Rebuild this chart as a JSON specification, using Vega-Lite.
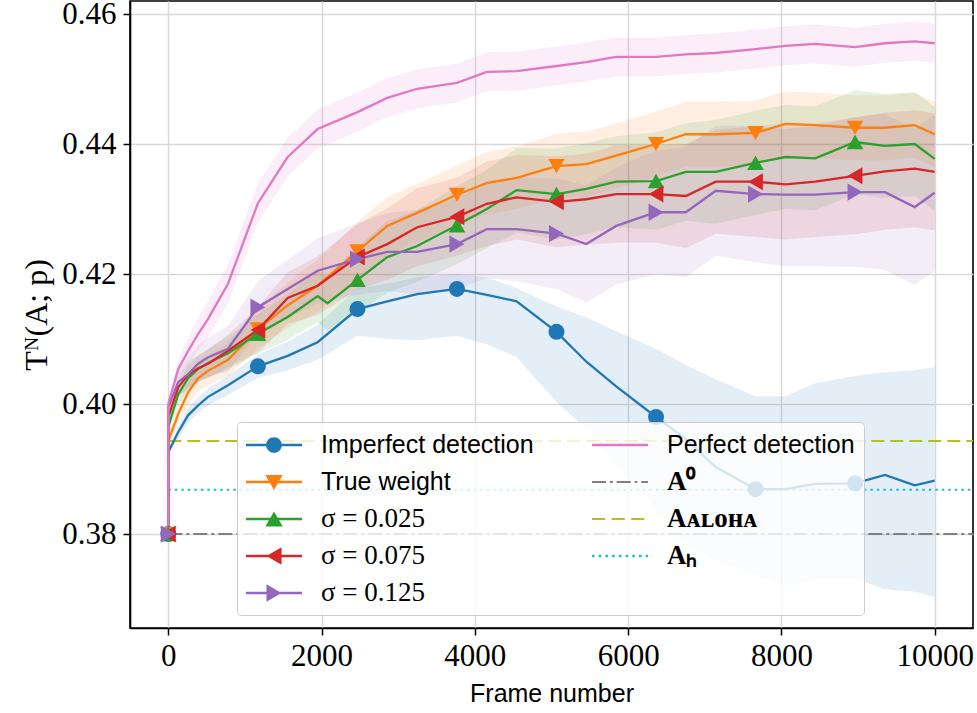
{
  "$schema": "https://vega.github.io/schema/vega-lite/v6.json",
  "width": 843,
  "height": 627,
  "autosize": {"type": "none"},
  "padding": {"left": 130, "top": 1, "right": 4, "bottom": 85},
  "background": "white",
  "config": {
    "view": {"stroke": "black", "strokeWidth": 1.6},
    "axis": {
      "grid": true, "gridColor": "#d9d9d9", "gridWidth": 1.5,
      "domainColor": "black", "domainWidth": 1.6,
      "tickColor": "black", "tickWidth": 1.5, "tickSize": 7,
      "labelFont": "Liberation Serif", "labelFontSize": 31, "labelColor": "black",
      "titleColor": "black", "titleFontWeight": "normal"
    },
    "axisX": {"labelPadding": 6, "titleFont": "Liberation Sans", "titleFontSize": 25, "titlePadding": 10, "labelFlush": false},
    "axisY": {"labelPadding": 7, "titleFont": "Liberation Serif", "titleFontSize": 32, "titlePadding": 8}
  },
  "datasets": {
    "curves": [
      {"s":"Imperfect detection","i":0,"f":0,"v":0.38},
      {"s":"Imperfect detection","i":1,"f":0,"v":0.3926,"lo":0.3921,"hi":0.3931},
      {"s":"Imperfect detection","i":2,"f":130,"v":0.3957,"lo":0.3947,"hi":0.3967},
      {"s":"Imperfect detection","i":3,"f":260,"v":0.3983,"lo":0.3971,"hi":0.3995},
      {"s":"Imperfect detection","i":4,"f":390,"v":0.3998,"lo":0.3986,"hi":0.4010},
      {"s":"Imperfect detection","i":5,"f":519,"v":0.4011,"lo":0.3998,"hi":0.4024},
      {"s":"Imperfect detection","i":7,"f":779,"v":0.4029,"lo":0.4014,"hi":0.4044},
      {"s":"Imperfect detection","i":10,"f":1169,"v":0.4058,"lo":0.4040,"hi":0.4076},
      {"s":"Imperfect detection","i":13,"f":1558,"v":0.4074,"lo":0.4052,"hi":0.4096},
      {"s":"Imperfect detection","i":16,"f":1948,"v":0.4095,"lo":0.4068,"hi":0.4122},
      {"s":"Imperfect detection","i":20,"f":2468,"v":0.4146,"lo":0.4105,"hi":0.4178},
      {"s":"Imperfect detection","i":23,"f":2857,"v":0.4158,"lo":0.4100,"hi":0.4185},
      {"s":"Imperfect detection","i":26,"f":3247,"v":0.4169,"lo":0.4098,"hi":0.4195},
      {"s":"Imperfect detection","i":30,"f":3766,"v":0.4177,"lo":0.4105,"hi":0.4200},
      {"s":"Imperfect detection","i":33,"f":4156,"v":0.4168,"lo":0.4092,"hi":0.4195},
      {"s":"Imperfect detection","i":36,"f":4545,"v":0.4158,"lo":0.4072,"hi":0.4178},
      {"s":"Imperfect detection","i":40,"f":5065,"v":0.4111,"lo":0.4003,"hi":0.4150},
      {"s":"Imperfect detection","i":43,"f":5455,"v":0.4065,"lo":0.3962,"hi":0.4133},
      {"s":"Imperfect detection","i":46,"f":5844,"v":0.4027,"lo":0.3906,"hi":0.4112},
      {"s":"Imperfect detection","i":50,"f":6364,"v":0.3980,"lo":0.3838,"hi":0.4085},
      {"s":"Imperfect detection","i":53,"f":6753,"v":0.3946,"lo":0.3785,"hi":0.4060},
      {"s":"Imperfect detection","i":56,"f":7143,"v":0.3903,"lo":0.3758,"hi":0.4038},
      {"s":"Imperfect detection","i":60,"f":7662,"v":0.3869,"lo":0.3738,"hi":0.4012},
      {"s":"Imperfect detection","i":63,"f":8052,"v":0.3869,"lo":0.3720,"hi":0.4012},
      {"s":"Imperfect detection","i":66,"f":8442,"v":0.3877,"lo":0.3731,"hi":0.4032},
      {"s":"Imperfect detection","i":70,"f":8961,"v":0.3878,"lo":0.3731,"hi":0.4043},
      {"s":"Imperfect detection","i":73,"f":9351,"v":0.3891,"lo":0.3715,"hi":0.4049},
      {"s":"Imperfect detection","i":76,"f":9740,"v":0.3875,"lo":0.3711,"hi":0.4052},
      {"s":"Imperfect detection","i":78,"f":10000,"v":0.3882,"lo":0.3703,"hi":0.4057},

      {"s":"True weight","i":0,"f":0,"v":0.38},
      {"s":"True weight","i":1,"f":0,"v":0.3943,"lo":0.3935,"hi":0.3951},
      {"s":"True weight","i":2,"f":130,"v":0.3985,"lo":0.3970,"hi":0.4000},
      {"s":"True weight","i":3,"f":260,"v":0.4018,"lo":0.3998,"hi":0.4038},
      {"s":"True weight","i":4,"f":390,"v":0.4040,"lo":0.4020,"hi":0.4060},
      {"s":"True weight","i":5,"f":519,"v":0.4051,"lo":0.4029,"hi":0.4073},
      {"s":"True weight","i":7,"f":779,"v":0.4068,"lo":0.4043,"hi":0.4093},
      {"s":"True weight","i":10,"f":1169,"v":0.4115,"lo":0.4085,"hi":0.4145},
      {"s":"True weight","i":13,"f":1558,"v":0.4152,"lo":0.4117,"hi":0.4187},
      {"s":"True weight","i":16,"f":1948,"v":0.4182,"lo":0.4142,"hi":0.4222},
      {"s":"True weight","i":20,"f":2468,"v":0.4235,"lo":0.4190,"hi":0.4280},
      {"s":"True weight","i":23,"f":2857,"v":0.4274,"lo":0.4229,"hi":0.4319},
      {"s":"True weight","i":26,"f":3247,"v":0.4294,"lo":0.4249,"hi":0.4339},
      {"s":"True weight","i":30,"f":3766,"v":0.4322,"lo":0.4277,"hi":0.4367},
      {"s":"True weight","i":33,"f":4156,"v":0.4340,"lo":0.4292,"hi":0.4388},
      {"s":"True weight","i":36,"f":4545,"v":0.4348,"lo":0.4300,"hi":0.4396},
      {"s":"True weight","i":40,"f":5065,"v":0.4366,"lo":0.4316,"hi":0.4416},
      {"s":"True weight","i":43,"f":5455,"v":0.4369,"lo":0.4319,"hi":0.4419},
      {"s":"True weight","i":46,"f":5844,"v":0.4382,"lo":0.4332,"hi":0.4432},
      {"s":"True weight","i":50,"f":6364,"v":0.4400,"lo":0.4350,"hi":0.4450},
      {"s":"True weight","i":53,"f":6753,"v":0.4415,"lo":0.4365,"hi":0.4465},
      {"s":"True weight","i":56,"f":7143,"v":0.4415,"lo":0.4365,"hi":0.4465},
      {"s":"True weight","i":60,"f":7662,"v":0.4417,"lo":0.4367,"hi":0.4467},
      {"s":"True weight","i":63,"f":8052,"v":0.4431,"lo":0.4381,"hi":0.4481},
      {"s":"True weight","i":66,"f":8442,"v":0.4429,"lo":0.4379,"hi":0.4479},
      {"s":"True weight","i":70,"f":8961,"v":0.4425,"lo":0.4375,"hi":0.4475},
      {"s":"True weight","i":73,"f":9351,"v":0.4425,"lo":0.4375,"hi":0.4475},
      {"s":"True weight","i":76,"f":9740,"v":0.4429,"lo":0.4379,"hi":0.4479},
      {"s":"True weight","i":78,"f":10000,"v":0.4415,"lo":0.4365,"hi":0.4465},

      {"s":"σ = 0.025","i":0,"f":0,"v":0.38},
      {"s":"σ = 0.025","i":1,"f":0,"v":0.3965,"lo":0.3955,"hi":0.3975},
      {"s":"σ = 0.025","i":2,"f":130,"v":0.4015,"lo":0.4000,"hi":0.4030},
      {"s":"σ = 0.025","i":3,"f":260,"v":0.4040,"lo":0.4020,"hi":0.4060},
      {"s":"σ = 0.025","i":4,"f":390,"v":0.4054,"lo":0.4034,"hi":0.4074},
      {"s":"σ = 0.025","i":5,"f":519,"v":0.4063,"lo":0.4041,"hi":0.4085},
      {"s":"σ = 0.025","i":7,"f":779,"v":0.4078,"lo":0.4053,"hi":0.4103},
      {"s":"σ = 0.025","i":10,"f":1169,"v":0.4108,"lo":0.4078,"hi":0.4138},
      {"s":"σ = 0.025","i":13,"f":1558,"v":0.4134,"lo":0.4099,"hi":0.4169},
      {"s":"σ = 0.025","i":16,"f":1948,"v":0.4166,"lo":0.4126,"hi":0.4206},
      {"s":"σ = 0.025","i":17,"f":2078,"v":0.4155,"lo":0.4113,"hi":0.4197},
      {"s":"σ = 0.025","i":20,"f":2468,"v":0.4191,"lo":0.4141,"hi":0.4241},
      {"s":"σ = 0.025","i":23,"f":2857,"v":0.4226,"lo":0.4171,"hi":0.4281},
      {"s":"σ = 0.025","i":26,"f":3247,"v":0.4243,"lo":0.4188,"hi":0.4298},
      {"s":"σ = 0.025","i":30,"f":3766,"v":0.4275,"lo":0.4215,"hi":0.4335},
      {"s":"σ = 0.025","i":33,"f":4156,"v":0.4300,"lo":0.4240,"hi":0.4360},
      {"s":"σ = 0.025","i":36,"f":4545,"v":0.4329,"lo":0.4264,"hi":0.4394},
      {"s":"σ = 0.025","i":40,"f":5065,"v":0.4323,"lo":0.4253,"hi":0.4393},
      {"s":"σ = 0.025","i":43,"f":5455,"v":0.4331,"lo":0.4261,"hi":0.4401},
      {"s":"σ = 0.025","i":46,"f":5844,"v":0.4342,"lo":0.4272,"hi":0.4412},
      {"s":"σ = 0.025","i":50,"f":6364,"v":0.4343,"lo":0.4268,"hi":0.4418},
      {"s":"σ = 0.025","i":53,"f":6753,"v":0.4357,"lo":0.4282,"hi":0.4432},
      {"s":"σ = 0.025","i":56,"f":7143,"v":0.4357,"lo":0.4277,"hi":0.4437},
      {"s":"σ = 0.025","i":60,"f":7662,"v":0.4371,"lo":0.4291,"hi":0.4451},
      {"s":"σ = 0.025","i":63,"f":8052,"v":0.4380,"lo":0.4300,"hi":0.4460},
      {"s":"σ = 0.025","i":66,"f":8442,"v":0.4378,"lo":0.4298,"hi":0.4458},
      {"s":"σ = 0.025","i":70,"f":8961,"v":0.4403,"lo":0.4323,"hi":0.4483},
      {"s":"σ = 0.025","i":73,"f":9351,"v":0.4397,"lo":0.4317,"hi":0.4477},
      {"s":"σ = 0.025","i":76,"f":9740,"v":0.4400,"lo":0.4320,"hi":0.4480},
      {"s":"σ = 0.025","i":78,"f":10000,"v":0.4377,"lo":0.4297,"hi":0.4457},

      {"s":"σ = 0.075","i":0,"f":0,"v":0.38},
      {"s":"σ = 0.075","i":1,"f":0,"v":0.3980,"lo":0.3970,"hi":0.3990},
      {"s":"σ = 0.075","i":2,"f":130,"v":0.4026,"lo":0.4011,"hi":0.4041},
      {"s":"σ = 0.075","i":3,"f":260,"v":0.4045,"lo":0.4025,"hi":0.4065},
      {"s":"σ = 0.075","i":4,"f":390,"v":0.4055,"lo":0.4035,"hi":0.4075},
      {"s":"σ = 0.075","i":5,"f":519,"v":0.4062,"lo":0.4040,"hi":0.4084},
      {"s":"σ = 0.075","i":7,"f":779,"v":0.4082,"lo":0.4057,"hi":0.4107},
      {"s":"σ = 0.075","i":10,"f":1169,"v":0.4114,"lo":0.4079,"hi":0.4149},
      {"s":"σ = 0.075","i":13,"f":1558,"v":0.4163,"lo":0.4123,"hi":0.4203},
      {"s":"σ = 0.075","i":16,"f":1948,"v":0.4182,"lo":0.4137,"hi":0.4227},
      {"s":"σ = 0.075","i":20,"f":2468,"v":0.4226,"lo":0.4176,"hi":0.4276},
      {"s":"σ = 0.075","i":23,"f":2857,"v":0.4246,"lo":0.4191,"hi":0.4301},
      {"s":"σ = 0.075","i":26,"f":3247,"v":0.4272,"lo":0.4212,"hi":0.4332},
      {"s":"σ = 0.075","i":30,"f":3766,"v":0.4288,"lo":0.4228,"hi":0.4348},
      {"s":"σ = 0.075","i":33,"f":4156,"v":0.4308,"lo":0.4243,"hi":0.4373},
      {"s":"σ = 0.075","i":36,"f":4545,"v":0.4318,"lo":0.4253,"hi":0.4383},
      {"s":"σ = 0.075","i":40,"f":5065,"v":0.4311,"lo":0.4241,"hi":0.4381},
      {"s":"σ = 0.075","i":43,"f":5455,"v":0.4315,"lo":0.4245,"hi":0.4385},
      {"s":"σ = 0.075","i":46,"f":5844,"v":0.4323,"lo":0.4248,"hi":0.4398},
      {"s":"σ = 0.075","i":50,"f":6364,"v":0.4323,"lo":0.4248,"hi":0.4398},
      {"s":"σ = 0.075","i":53,"f":6753,"v":0.4320,"lo":0.4240,"hi":0.4400},
      {"s":"σ = 0.075","i":56,"f":7143,"v":0.4342,"lo":0.4262,"hi":0.4422},
      {"s":"σ = 0.075","i":60,"f":7662,"v":0.4342,"lo":0.4257,"hi":0.4427},
      {"s":"σ = 0.075","i":63,"f":8052,"v":0.4338,"lo":0.4253,"hi":0.4423},
      {"s":"σ = 0.075","i":66,"f":8442,"v":0.4342,"lo":0.4257,"hi":0.4427},
      {"s":"σ = 0.075","i":70,"f":8961,"v":0.4351,"lo":0.4261,"hi":0.4441},
      {"s":"σ = 0.075","i":73,"f":9351,"v":0.4358,"lo":0.4268,"hi":0.4448},
      {"s":"σ = 0.075","i":76,"f":9740,"v":0.4362,"lo":0.4272,"hi":0.4452},
      {"s":"σ = 0.075","i":78,"f":10000,"v":0.4357,"lo":0.4267,"hi":0.4447},

      {"s":"σ = 0.125","i":0,"f":0,"v":0.38},
      {"s":"σ = 0.125","i":1,"f":0,"v":0.3995,"lo":0.3983,"hi":0.4007},
      {"s":"σ = 0.125","i":2,"f":130,"v":0.4034,"lo":0.4014,"hi":0.4054},
      {"s":"σ = 0.125","i":3,"f":260,"v":0.4046,"lo":0.4021,"hi":0.4071},
      {"s":"σ = 0.125","i":4,"f":390,"v":0.4062,"lo":0.4034,"hi":0.4090},
      {"s":"σ = 0.125","i":5,"f":519,"v":0.4072,"lo":0.4042,"hi":0.4102},
      {"s":"σ = 0.125","i":7,"f":779,"v":0.4085,"lo":0.4050,"hi":0.4120},
      {"s":"σ = 0.125","i":10,"f":1169,"v":0.4149,"lo":0.4109,"hi":0.4189},
      {"s":"σ = 0.125","i":13,"f":1558,"v":0.4177,"lo":0.4132,"hi":0.4222},
      {"s":"σ = 0.125","i":16,"f":1948,"v":0.4205,"lo":0.4155,"hi":0.4255},
      {"s":"σ = 0.125","i":20,"f":2468,"v":0.4223,"lo":0.4168,"hi":0.4278},
      {"s":"σ = 0.125","i":23,"f":2857,"v":0.4234,"lo":0.4174,"hi":0.4294},
      {"s":"σ = 0.125","i":26,"f":3247,"v":0.4234,"lo":0.4169,"hi":0.4299},
      {"s":"σ = 0.125","i":30,"f":3766,"v":0.4246,"lo":0.4176,"hi":0.4316},
      {"s":"σ = 0.125","i":33,"f":4156,"v":0.4269,"lo":0.4194,"hi":0.4344},
      {"s":"σ = 0.125","i":36,"f":4545,"v":0.4269,"lo":0.4189,"hi":0.4349},
      {"s":"σ = 0.125","i":40,"f":5065,"v":0.4262,"lo":0.4177,"hi":0.4347},
      {"s":"σ = 0.125","i":43,"f":5455,"v":0.4246,"lo":0.4156,"hi":0.4336},
      {"s":"σ = 0.125","i":46,"f":5844,"v":0.4274,"lo":0.4184,"hi":0.4364},
      {"s":"σ = 0.125","i":50,"f":6364,"v":0.4295,"lo":0.4200,"hi":0.4390},
      {"s":"σ = 0.125","i":53,"f":6753,"v":0.4295,"lo":0.4195,"hi":0.4395},
      {"s":"σ = 0.125","i":56,"f":7143,"v":0.4328,"lo":0.4228,"hi":0.4428},
      {"s":"σ = 0.125","i":60,"f":7662,"v":0.4323,"lo":0.4218,"hi":0.4428},
      {"s":"σ = 0.125","i":63,"f":8052,"v":0.4322,"lo":0.4212,"hi":0.4432},
      {"s":"σ = 0.125","i":66,"f":8442,"v":0.4322,"lo":0.4212,"hi":0.4432},
      {"s":"σ = 0.125","i":70,"f":8961,"v":0.4326,"lo":0.4211,"hi":0.4441},
      {"s":"σ = 0.125","i":73,"f":9351,"v":0.4326,"lo":0.4206,"hi":0.4446},
      {"s":"σ = 0.125","i":76,"f":9740,"v":0.4303,"lo":0.4183,"hi":0.4423},
      {"s":"σ = 0.125","i":78,"f":10000,"v":0.4325,"lo":0.4205,"hi":0.4445},

      {"s":"Perfect detection","i":0,"f":0,"v":0.38},
      {"s":"Perfect detection","i":1,"f":0,"v":0.4000,"lo":0.3994,"hi":0.4006},
      {"s":"Perfect detection","i":2,"f":130,"v":0.4054,"lo":0.4039,"hi":0.4069},
      {"s":"Perfect detection","i":3,"f":260,"v":0.4082,"lo":0.4062,"hi":0.4102},
      {"s":"Perfect detection","i":4,"f":390,"v":0.4108,"lo":0.4083,"hi":0.4133},
      {"s":"Perfect detection","i":5,"f":519,"v":0.4131,"lo":0.4103,"hi":0.4159},
      {"s":"Perfect detection","i":7,"f":779,"v":0.4185,"lo":0.4155,"hi":0.4215},
      {"s":"Perfect detection","i":10,"f":1169,"v":0.4309,"lo":0.4279,"hi":0.4339},
      {"s":"Perfect detection","i":13,"f":1558,"v":0.4380,"lo":0.4350,"hi":0.4410},
      {"s":"Perfect detection","i":16,"f":1948,"v":0.4423,"lo":0.4393,"hi":0.4453},
      {"s":"Perfect detection","i":20,"f":2468,"v":0.4449,"lo":0.4419,"hi":0.4479},
      {"s":"Perfect detection","i":23,"f":2857,"v":0.4471,"lo":0.4441,"hi":0.4501},
      {"s":"Perfect detection","i":26,"f":3247,"v":0.4485,"lo":0.4455,"hi":0.4515},
      {"s":"Perfect detection","i":30,"f":3766,"v":0.4494,"lo":0.4464,"hi":0.4524},
      {"s":"Perfect detection","i":33,"f":4156,"v":0.4511,"lo":0.4481,"hi":0.4541},
      {"s":"Perfect detection","i":36,"f":4545,"v":0.4512,"lo":0.4482,"hi":0.4542},
      {"s":"Perfect detection","i":40,"f":5065,"v":0.4520,"lo":0.4490,"hi":0.4550},
      {"s":"Perfect detection","i":43,"f":5455,"v":0.4526,"lo":0.4496,"hi":0.4556},
      {"s":"Perfect detection","i":46,"f":5844,"v":0.4534,"lo":0.4504,"hi":0.4564},
      {"s":"Perfect detection","i":50,"f":6364,"v":0.4534,"lo":0.4504,"hi":0.4564},
      {"s":"Perfect detection","i":53,"f":6753,"v":0.4538,"lo":0.4508,"hi":0.4568},
      {"s":"Perfect detection","i":56,"f":7143,"v":0.4540,"lo":0.4510,"hi":0.4570},
      {"s":"Perfect detection","i":60,"f":7662,"v":0.4546,"lo":0.4516,"hi":0.4576},
      {"s":"Perfect detection","i":63,"f":8052,"v":0.4551,"lo":0.4521,"hi":0.4581},
      {"s":"Perfect detection","i":66,"f":8442,"v":0.4554,"lo":0.4524,"hi":0.4584},
      {"s":"Perfect detection","i":70,"f":8961,"v":0.4549,"lo":0.4519,"hi":0.4579},
      {"s":"Perfect detection","i":73,"f":9351,"v":0.4555,"lo":0.4525,"hi":0.4585},
      {"s":"Perfect detection","i":76,"f":9740,"v":0.4558,"lo":0.4528,"hi":0.4588},
      {"s":"Perfect detection","i":78,"f":10000,"v":0.4555,"lo":0.4525,"hi":0.4585}
    ],
    "refs": [
      {"s":"A⁰","v":0.38},
      {"s":"Aᴀʟᴏʜᴀ","v":0.3943},
      {"s":"Aₕ","v":0.3868}
    ]
  },
  "layer": [
    {
      "data": {"name": "curves"},
      "mark": {"type": "area", "fillOpacity": 0.12, "strokeWidth": 0},
      "encoding": {
        "x": {"field": "f", "type": "quantitative", "title": "Frame number",
              "scale": {"domain": [-500, 10500], "nice": false, "zero": false},
              "axis": {"values": [0, 2000, 4000, 6000, 8000, 10000], "format": "d"}},
        "y": {"field": "lo", "type": "quantitative", "title": "Tᴺ(A; p)",
              "scale": {"domain": [0.36554, 0.462], "nice": false, "zero": false},
              "axis": {"values": [0.38, 0.40, 0.42, 0.44, 0.46], "format": ".2f"}},
        "y2": {"field": "hi"},
        "color": {
          "field": "s", "type": "nominal",
          "scale": {
            "domain": ["Imperfect detection","True weight","σ = 0.025","σ = 0.075","σ = 0.125","Perfect detection","A⁰","Aᴀʟᴏʜᴀ","Aₕ"],
            "range": ["#1f77b4","#ff7f0e","#2ca02c","#d62728","#9467bd","#e377c2","#7f7f7f","#bcbd22","#17becf"]
          },
          "legend": {
            "orient": "none", "legendX": 107, "legendY": 421,
            "columns": 2, "title": null,
            "symbolSize": 784, "labelOffset": 47, "columnPadding": 58, "rowPadding": 10,
            "padding": 9, "fillColor": "rgba(255,255,255,0.8)", "strokeColor": "#cccccc",
            "cornerRadius": 4, "labelFont": "Liberation Sans", "labelFontSize": 25,
            "labelColor": "black", "labelLimit": 500, "labelBaseline": "middle",
            "encode": {
              "symbols": {"update": {
                "shape": {"signal": "datum.value === 'Imperfect detection' ? 'M-1,-0.09H3V0.09H-1Z M1.56,0A0.56,0.56 0 1,1 0.44,0A0.56,0.56 0 1,1 1.56,0Z' : datum.value === 'True weight' ? 'M-1,-0.09H3V0.09H-1Z M0.38,-0.5H1.62L1,0.58Z' : datum.value === 'σ = 0.025' ? 'M-1,-0.09H3V0.09H-1Z M0.38,0.54L1,-0.54L1.62,0.54Z' : datum.value === 'σ = 0.075' ? 'M-1,-0.09H3V0.09H-1Z M1.54,-0.62L1.54,0.62L0.46,0Z' : datum.value === 'σ = 0.125' ? 'M-1,-0.09H3V0.09H-1Z M0.46,-0.62L1.54,0L0.46,0.62Z' : datum.value === 'A⁰' ? 'M-1,-0.076H0V0.076H-1Z M0.28,-0.076H0.48V0.076H0.28Z M0.76,-0.076H1.76V0.076H0.76Z M2.04,-0.076H2.24V0.076H2.04Z M2.52,-0.076H3V0.076H2.52Z' : datum.value === 'Aᴀʟᴏʜᴀ' ? 'M-1,-0.08H-0.06V0.08H-1Z M0.4,-0.08H1.34V0.08H0.4Z M1.8,-0.08H2.74V0.08H1.8Z' : datum.value === 'Aₕ' ? 'M-1,-0.09H-0.82V0.09H-1Z M-0.52,-0.09H-0.34V0.09H-0.52Z M-0.04,-0.09H0.14V0.09H-0.04Z M0.44,-0.09H0.62V0.09H0.44Z M0.92,-0.09H1.1V0.09H0.92Z M1.4,-0.09H1.58V0.09H1.4Z M1.88,-0.09H2.06V0.09H1.88Z M2.36,-0.09H2.54V0.09H2.36Z M2.84,-0.09H3V0.09H2.84Z' : 'M-1,-0.09H3V0.09H-1Z'"},
                "fill": {"signal": "scale('color', datum.value)"},
                "stroke": {"value": "transparent"},
                "strokeWidth": {"value": 0},
                "opacity": {"value": 1},
                "fillOpacity": {"value": 1}
              }},
              "labels": {"update": {
                "font": {"signal": "indexof(['Imperfect detection','True weight','Perfect detection'], datum.label) >= 0 ? 'Liberation Sans' : 'Liberation Serif'"},
                "fontSize": {"signal": "indexof(['Imperfect detection','True weight','Perfect detection'], datum.label) >= 0 ? 25 : 27"},
                "fontWeight": {"signal": "indexof(['A⁰','Aᴀʟᴏʜᴀ','Aₕ'], datum.label) >= 0 ? 'bold' : 'normal'"}
              }}
            }
          }
        }
      }
    },
    {
      "data": {"name": "refs"},
      "mark": {"type": "rule", "strokeWidth": 2},
      "encoding": {
        "y": {"field": "v", "type": "quantitative", "title": "Tᴺ(A; p)"},
        "x": {"datum": 0},
        "x2": {"datum": 10500},
        "color": {"field": "s", "type": "nominal"},
        "strokeDash": {"field": "s", "type": "nominal", "legend": null,
          "scale": {"domain": ["A⁰","Aᴀʟᴏʜᴀ","Aₕ"], "range": [[14,4,3,4],[13,6],[2.5,4]]}}
      }
    },
    {
      "data": {"name": "curves"},
      "mark": {"type": "line", "strokeWidth": 2.3},
      "encoding": {
        "x": {"field": "f", "type": "quantitative", "title": "Frame number"},
        "y": {"field": "v", "type": "quantitative", "title": "Tᴺ(A; p)"},
        "color": {"field": "s", "type": "nominal"},
        "order": {"field": "i", "type": "quantitative"}
      }
    },
    {
      "data": {"name": "curves"},
      "transform": [{"filter": "datum.i % 10 === 0 && datum.s !== 'Perfect detection'"}],
      "mark": {"type": "point", "filled": true, "opacity": 1, "strokeWidth": 0},
      "encoding": {
        "x": {"field": "f", "type": "quantitative", "title": "Frame number"},
        "y": {"field": "v", "type": "quantitative", "title": "Tᴺ(A; p)"},
        "color": {"field": "s", "type": "nominal"},
        "shape": {"field": "s", "type": "nominal", "legend": null,
          "scale": {"domain": ["Imperfect detection","True weight","σ = 0.025","σ = 0.075","σ = 0.125"],
                    "range": ["circle","triangle-down","triangle-up","triangle-left","triangle-right"]}},
        "size": {"field": "s", "type": "nominal", "legend": null,
          "scale": {"domain": ["Imperfect detection","True weight","σ = 0.025","σ = 0.075","σ = 0.125"],
                    "range": [256, 300, 300, 300, 300]}}
      }
    }
  ]
}
